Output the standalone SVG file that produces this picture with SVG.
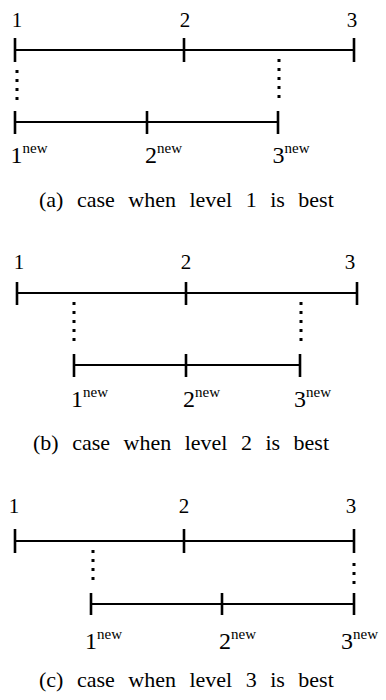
<svg xmlns="http://www.w3.org/2000/svg" width="386" height="700" viewBox="0 0 386 700">
<style>
.ln{stroke:#000;stroke-width:2;fill:none}
.tk{stroke:#000;stroke-width:2.6;fill:none}
.dt{stroke:#000;stroke-width:3;stroke-dasharray:3 6;fill:none}
.top{font-family:"Liberation Serif",serif;font-size:21px;fill:#000;text-anchor:middle}
.bot{font-family:"Liberation Serif",serif;font-size:24px;fill:#000}
.sup{font-size:15px}
.cap{font-family:"Liberation Serif",serif;font-size:22px;fill:#000;word-spacing:8px}
</style>
<rect width="386" height="700" fill="#fff"/>
<g id="panel-a">
  <g id="a-top">
    <path class="ln" d="M15 50H354"/>
    <path class="tk" d="M15 38V62M184 38V62M354 38V62"/>
    <text class="top" x="17" y="27">1</text>
    <text class="top" x="185" y="27">2</text>
    <text class="top" x="352" y="27">3</text>
  </g>
  <g id="a-bottom">
    <path class="ln" d="M15 122H278"/>
    <path class="tk" d="M15 111V134M147 111V134M278 111V134"/>
    <text class="bot" x="10.5" y="163">1<tspan class="sup" dy="-10">new</tspan></text>
    <text class="bot" x="145" y="163">2<tspan class="sup" dy="-10">new</tspan></text>
    <text class="bot" x="272.5" y="163">3<tspan class="sup" dy="-10">new</tspan></text>
  </g>
  <text id="a-caption" class="cap" x="39" y="207">(a) case when level 1 is best</text>
</g>
<g id="panel-b">
  <g id="b-top">
    <path class="ln" d="M17 293H357"/>
    <path class="tk" d="M17 282V305M186 282V305M357 282V305"/>
    <text class="top" x="19" y="269">1</text>
    <text class="top" x="186" y="269">2</text>
    <text class="top" x="350" y="269">3</text>
  </g>
  <g id="b-bottom">
    <path class="ln" d="M74 365H300"/>
    <path class="tk" d="M74 354V377M186 354V377M300 354V377"/>
    <text class="bot" x="71" y="407">1<tspan class="sup" dy="-10">new</tspan></text>
    <text class="bot" x="183" y="407">2<tspan class="sup" dy="-10">new</tspan></text>
    <text class="bot" x="294" y="407">3<tspan class="sup" dy="-10">new</tspan></text>
  </g>
  <text id="b-caption" class="cap" x="33" y="450">(b) case when level 2 is best</text>
</g>
<g id="panel-c">
  <g id="c-top">
    <path class="ln" d="M15 541H354"/>
    <path class="tk" d="M15 529V553M184 529V553M354 529V553"/>
    <text class="top" x="14" y="513">1</text>
    <text class="top" x="184" y="513">2</text>
    <text class="top" x="351" y="513">3</text>
  </g>
  <g id="c-bottom">
    <path class="ln" d="M91 604H354"/>
    <path class="tk" d="M91 593V615M222 593V615M354 593V615"/>
    <text class="bot" x="85" y="649">1<tspan class="sup" dy="-10">new</tspan></text>
    <text class="bot" x="219" y="649">2<tspan class="sup" dy="-10">new</tspan></text>
    <text class="bot" x="341" y="649">3<tspan class="sup" dy="-10">new</tspan></text>
  </g>
  <text id="c-caption" class="cap" x="39" y="687">(c) case when level 3 is best</text>
</g>
<g id="connectors">
  <path class="dt" d="M17 70V101"/>
  <path class="dt" d="M279 59V101"/>
  <path class="dt" d="M74 302V344"/>
  <path class="dt" d="M301 302V344"/>
  <path class="dt" d="M93 550V584"/>
  <path class="dt" d="M354 563V584"/>
</g>
</svg>
